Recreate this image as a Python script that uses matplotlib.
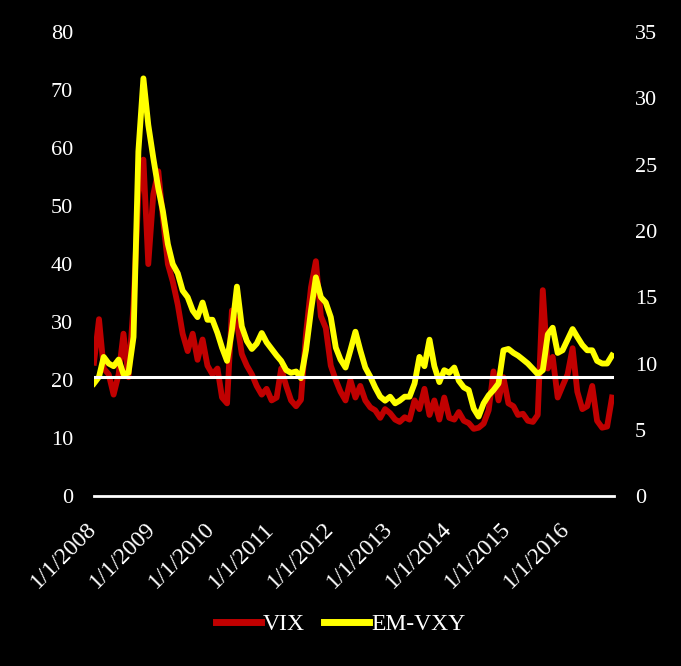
import matplotlib
matplotlib.use('Agg')
import matplotlib.pyplot as plt
import matplotlib.dates as mdates
import matplotlib.transforms as mtransforms
import pandas as pd
from matplotlib import rcParams

rcParams['font.family'] = 'Liberation Serif'

# monthly readings, Jan 2008 .. Oct 2016
vix = [23, 30.5, 22, 21, 17.5, 21, 28, 20.5, 33, 52,
       58, 40, 52, 56, 48, 40, 37, 33, 28, 25,
       28, 23.5, 27, 22.5, 21, 22, 17, 16, 32, 30,
       24.5, 22.5, 21, 19, 17.5, 18.5, 16.5, 17, 22, 19,
       16.5, 15.5, 16.6, 28, 36, 40.5, 31, 29, 22.5, 20,
       18, 16.5, 20, 17, 19, 16.5, 15.3, 14.8, 13.5, 15,
       14.3, 13.2, 12.8, 13.6, 13.2, 16.5, 15, 18.5, 14, 16.5,
       13.2, 17, 13.5, 13.2, 14.5, 13, 12.6, 11.6, 11.8, 12.5,
       14.8, 21.5, 16.5, 20.5, 16, 15.5, 14, 14.2, 13, 12.8,
       14, 35.5, 22, 24, 17, 19, 21, 25.5, 18, 15,
       15.5, 19, 13, 11.8, 12, 17]

em_vxy = [8.5, 9.0, 10.5, 10.0, 9.8, 10.3, 9.2, 9.3, 12, 26,
          31.5, 28, 25.5, 23.2, 21.5, 19, 17.5, 16.8, 15.5, 15,
          14, 13.5, 14.6, 13.3, 13.3, 12.3, 11.2, 10.2, 12.5, 15.8,
          12.8, 11.7, 11.1, 11.5, 12.3, 11.6, 11.1, 10.6, 10.2, 9.5,
          9.3, 9.4, 8.9, 11, 14, 16.5, 15, 14.6, 13.5, 11.2,
          10.3, 9.7, 11, 12.4, 11, 9.7, 9.0, 8.2, 7.5, 7.2,
          7.5, 7.0, 7.2, 7.5, 7.5, 8.5, 10.5, 9.8, 11.8, 9.8,
          8.6, 9.5, 9.3, 9.7, 8.7, 8.2, 8.0, 6.6, 6.0, 7.0,
          7.6, 8.0, 8.5, 11.0, 11.1, 10.8, 10.6, 10.3, 10.0, 9.6,
          9.2, 9.5, 12.2, 12.7, 10.8, 11.0, 11.8, 12.6, 12.0, 11.4,
          11.0, 11.0, 10.2, 10.0, 10.0, 10.6]

dates = pd.date_range('2008-01-01', periods=len(vix), freq='MS')
year_ticks = pd.date_range('2008-01-01', '2016-01-01', freq='YS')
vix_ref = 20.5

fig = plt.figure(figsize=(6.81, 6.66), dpi=100, facecolor='black')
ax = fig.add_axes([0.138, 0.255, 0.764, 0.697])
ax.set_facecolor('black')
ax2 = ax.twinx()

ax.plot(dates, vix, color='#C00000', lw=4.2, label='VIX', solid_joinstyle='round')
ax2.plot(dates, em_vxy, color='#FFFF00', lw=4.2, label='EM-VXY', solid_joinstyle='round')
# reference line sits on top of both series
ax2.axhline(vix_ref * 35 / 80, color='white', lw=2.2)

ax.set_ylim(0, 80)
ax2.set_ylim(0, 35)
ax.set_yticks(range(0, 81, 10))
ax2.set_yticks(range(0, 36, 5))
ax.set_xlim(pd.Timestamp('2008-01-01'), pd.Timestamp('2016-10-15'))
ax.set_xticks(year_ticks)
ax.xaxis.set_major_formatter(mdates.DateFormatter('%-m/%-d/%Y'))

for a in (ax, ax2):
    for s in a.spines.values():
        s.set_visible(False)
    a.tick_params(colors='white', length=0, labelsize=16)
ax.spines['bottom'].set_visible(True)
ax.spines['bottom'].set_color('white')
ax.spines['bottom'].set_linewidth(2)
ax.tick_params(axis='y', pad=15)
ax2.tick_params(axis='y', pad=15)
ax.tick_params(axis='x', pad=16, labelsize=17)
shift = mtransforms.ScaledTranslation(-0.08, 0, fig.dpi_scale_trans)
for lbl in ax.get_xticklabels():
    lbl.set_rotation(45)
    lbl.set_ha('right')
    lbl.set_va('top')
    lbl.set_rotation_mode('anchor')
    lbl.set_transform(lbl.get_transform() + shift)

h1, l1 = ax.get_legend_handles_labels()
h2, l2 = ax2.get_legend_handles_labels()
leg = fig.legend(h1 + h2, l1 + l2, loc='center', bbox_to_anchor=(0.5, 0.062),
                 ncol=2, frameon=False, fontsize=17, handlelength=1.9,
                 handletextpad=0.1, columnspacing=0.8)
for t in leg.get_texts():
    t.set_color('white')
for h in leg.get_lines():
    h.set_linewidth(5)

fig.savefig('out.png', dpi=100, facecolor='black')
